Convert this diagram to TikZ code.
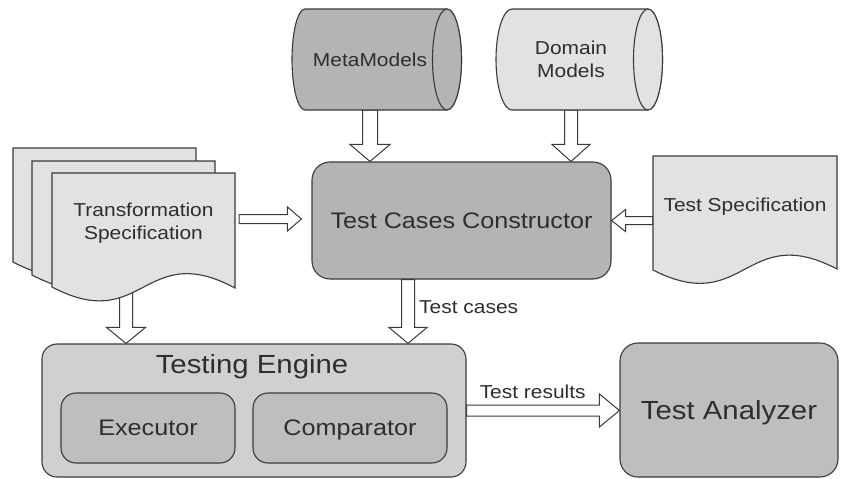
\documentclass[tikz,border=0pt]{standalone}
\usepackage{fontspec}
\setmainfont{Liberation Sans}[FakeStretch=1.12]
\usetikzlibrary{calc}
\pgfdeclarelayer{bg}\pgfsetlayers{bg,main}
\definecolor{ln}{HTML}{3A3A3A}
\definecolor{tx}{HTML}{2E2E2E}
\definecolor{dark}{HTML}{B4B4B4}
\definecolor{mid}{HTML}{BEBEBE}
\definecolor{lite}{HTML}{E2E2E2}
\definecolor{eng}{HTML}{D0D0D0}
% horizontal hollow block arrow: from, to, half shaft, half head, head length
\newcommand\hfat[5]{\draw[blk] let \p1=(#1),\p2=(#2),\n1={ifthenelse(\x2>\x1,1,-1)} in
  (\x1,{\y1+#3pt}) -- ({\x2-\n1*#5pt},{\y1+#3pt}) -- ({\x2-\n1*#5pt},{\y1+#4pt}) -- (\x2,\y1)
  -- ({\x2-\n1*#5pt},{\y1-#4pt}) -- ({\x2-\n1*#5pt},{\y1-#3pt}) -- (\x1,{\y1-#3pt}) -- cycle;}
% downward hollow block arrow
\newcommand\vfat[5]{\draw[blk] let \p1=(#1),\p2=(#2) in
  ({\x1-#3pt},\y1) -- ({\x1-#3pt},{\y2+#5pt}) -- ({\x1-#4pt},{\y2+#5pt}) -- (\x1,\y2)
  -- ({\x1+#4pt},{\y2+#5pt}) -- ({\x1+#3pt},{\y2+#5pt}) -- ({\x1+#3pt},\y1) -- cycle;}
\newcommand\docpath{(52,173) -- (235,173) -- (235,288) .. controls (143.5,239) and (143.5,335) .. (52,287) -- cycle}
\tikzset{
  outline/.style={draw=ln, line width=1.1pt},
  box/.style={outline, rounded corners=#1, text=tx, align=center, inner sep=0pt, text depth=0pt},
  blk/.style={draw=ln, line width=1pt, fill=white, line join=miter},
  lbl/.style={text=tx, inner sep=0pt},
  area/.style={inner sep=0pt, text=tx, align=center},
  small/.style={font=\fontsize{18.7}{23}\selectfont},
  medium/.style={font=\fontsize{22.5}{26}\selectfont},
  big/.style={font=\fontsize{26.2}{30}\selectfont},
}
\begin{document}
\begin{tikzpicture}[x=1pt,y=-1pt]
\useasboundingbox (0,0) rectangle (841,479);
% ---- cylinders
\path[outline, fill=dark] (305,9) -- (447,9) arc[start angle=-90,end angle=90,x radius=14.5,y radius=50.5]
  -- (305,110) arc[start angle=90,end angle=270,x radius=13,y radius=50.5] -- cycle;
\draw[outline, fill=dark] (447,59.5) ellipse[x radius=14.5, y radius=50.5];
\node[area, small, minimum width=120pt, minimum height=101pt] (mm) at (370,59.5) {MetaModels};
\path[outline, fill=lite] (512,9) -- (648,9) arc[start angle=-90,end angle=90,x radius=14.5,y radius=50.5]
  -- (512,110) arc[start angle=90,end angle=270,x radius=16,y radius=50.5] -- cycle;
\draw[outline, fill=lite] (648,59.5) ellipse[x radius=14.5, y radius=50.5];
\node[area, small, minimum width=110pt, minimum height=101pt] (dm) at (571,59.5) {Domain\\Models};
% ---- stacked documents
\begin{scope}[shift={(-39,-25)}]
  \path[outline, fill=lite] \docpath;
\end{scope}
\begin{scope}[shift={(-20,-12)}]
  \path[outline, fill=lite] \docpath;
\end{scope}
\path[outline, fill=lite] \docpath;
\node[area, small, minimum width=183pt, minimum height=100pt] (trs) at (143.5,223) {Transformation\\Specification};
% ---- test specification
\path[outline, fill=lite] (653,156) -- (837,156) -- (837,269) .. controls (745,221) and (745,317) .. (653,270) -- cycle;
\node[area, small, minimum width=184pt, minimum height=101pt] (ts) at (745,206.5) {Test Specification};
% ---- boxes
\node[box=18pt, fill=dark, medium, minimum width=299pt, minimum height=117pt] (tcc) at (461.5,220.5) {Test Cases Constructor};
\node[box=15pt, fill=eng, minimum width=424pt, minimum height=133pt] (te) at (254,410.5) {};
\node[lbl, big, anchor=base] (tet) at ($(te.north)+(-2,30)$) {Testing Engine};
\node[box=15pt, fill=mid, medium, minimum width=174pt, minimum height=70pt] (exe) at (148,428) {Executor};
\node[box=15pt, fill=mid, medium, minimum width=194pt, minimum height=70pt] (cmp) at (350,428) {Comparator};
\node[box=18pt, fill=mid, big, minimum width=218pt, minimum height=134pt] (ta) at (729,410) {Test Analyzer};
% ---- connectors
\coordinate (c1) at ($(tcc.south)+(-53.5,0)$);
\coordinate (c2) at ($(trs.south)+(-17.5,17)$);
\coordinate (c3) at ($(trs.east)+(4,-4)$);
\coordinate (c4) at ($(tcc.west)+(-10,0)$);
\begin{pgfonlayer}{bg}
\vfat{mm.south}{mm.south |- tcc.north}{7.5}{20}{17}
\vfat{dm.south}{dm.south |- tcc.north}{6.5}{19}{17}
\hfat{c3}{c4 |- c3}{4.5}{12}{14}
\hfat{ts.west |- tcc.east}{tcc.east}{4}{11}{14}
\vfat{c1}{c1 |- te.north}{6.5}{19}{16}
\vfat{c2}{c2 |- te.north}{6.5}{19.5}{16}
\hfat{te.east}{ta.west}{5.5}{16.5}{20}
\end{pgfonlayer}
\node[lbl, small, anchor=base west] (lc) at ($(tcc.south)+(-42.5,34)$) {Test cases};
\node[lbl, small, anchor=base west] (lr) at ($(te.east)+(13,-12.5)$) {Test results};
\end{tikzpicture}
\end{document}
